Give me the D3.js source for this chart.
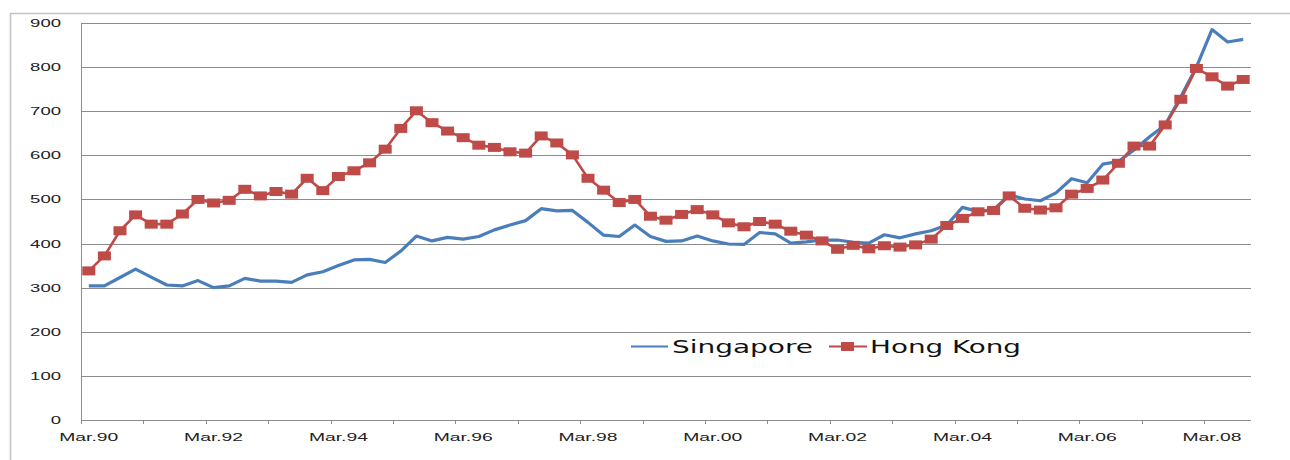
<!DOCTYPE html>
<html>
<head>
<meta charset="utf-8">
<script src="https://cdn.jsdelivr.net/npm/d3@7"></script>
<style>
    body { margin: 0; background: #fff; }
    svg { display: block; font-family: 'DejaVu Sans', Verdana, sans-serif; }
</style>
</head>
<body>
<div id="chart"></div>
<script>
// quarterly categories, Mar.90 .. Sep.08
const months = ['Mar', 'Jun', 'Sep', 'Dec'];
const years = ['90','91','92','93','94','95','96','97','98','99','00','01','02','03','04','05','06','07','08'];
const categories = [];
years.forEach(y => months.forEach(m => categories.push(`${m}.${y}`)));
categories.length = 75;

const yTicks = [0, 100, 200, 300, 400, 500, 600, 700, 800, 900];
const seriesNames = ['Singapore', 'Hong Kong'];

const singapore = [
    304, 304, 323, 342, 324, 306, 304, 316, 300, 304,
    321, 315, 315, 312, 329, 336, 350, 363, 364, 357,
    383, 417, 406, 414, 410, 416, 431, 442, 452, 479,
    474, 475, 448, 419, 416, 442, 416, 405, 406, 417,
    406, 399, 398, 425, 422, 401, 404, 408, 408, 403,
    401, 420, 413, 422, 429, 442, 482, 473, 477, 510,
    501, 497, 515, 547, 538, 580, 586, 612, 642, 669,
    733, 800, 885, 857, 863
];

const hongKong = [
    338, 372, 429, 465, 444, 444, 467, 500, 492, 498,
    523, 508, 518, 512, 548, 520, 552, 565, 583, 614,
    661, 701, 674, 655, 640, 623, 618, 608, 605, 644,
    628, 601, 548, 521, 493, 500, 462, 453, 466, 477,
    465, 447, 438, 450, 444, 428, 419, 406, 387, 396,
    388, 395, 392, 397, 410, 441, 457, 472, 475, 508,
    480, 476, 481, 512, 525, 544, 582, 621, 621, 669,
    727, 797, 778, 757, 772
];

class LineChart
{
    // margin: [top, bottom, left, right]
    constructor(container, width, height, margin) {
        this.width = width;
        this.height = height;
        this.margin = margin;

        this.svg = d3.select(container)
            .append('svg')
            .attr('width', width)
            .attr('height', height);

        // outer chart frame (left + top edges visible)
        this.svg.append('path')
            .attr('d', `M10.5,${height} V13.5 H${width}`)
            .style('fill', 'none')
            .style('stroke', '#c4c4c4')
            .style('stroke-width', 1.6);

        this.grid = this.svg.append('g');
        this.axisX = this.svg.append('g');
        this.axisY = this.svg.append('g');
        this.lines = this.svg.append('g');
        this.legend = this.svg.append('g');
    }

    #updateScales() {
        const [top, bottom, left, right] = this.margin;
        this.scaleX = d3.scaleBand(categories, [left, this.width - right]).padding(0);
        this.scaleY = d3.scaleLinear([0, 900], [this.height - bottom, top]);
        this.cx = d => this.scaleX(d) + this.scaleX.bandwidth() / 2;
    }

    #updateAxes() {
        const [top, bottom, left, right] = this.margin;
        const x0 = left, x1 = this.width - right;
        const y0 = this.height - bottom;

        // horizontal gridlines
        this.grid.selectAll('line')
            .data(yTicks.filter(t => t > 0))
            .join('line')
            .attr('x1', x0).attr('x2', x1)
            .attr('y1', d => Math.round(this.scaleY(d)) + 0.5)
            .attr('y2', d => Math.round(this.scaleY(d)) + 0.5)
            .style('stroke', '#8c8c8c')
            .style('stroke-width', 1);

        // y axis labels
        const axisGenY = d3.axisLeft(this.scaleY).tickValues(yTicks).tickSize(0).tickPadding(20);
        this.axisY.attr('transform', `translate(${x0}, 0)`).call(axisGenY);
        this.axisY.select('.domain').remove();
        this.axisY.selectAll('text')
            .style('font-size', '11px')
            .style('fill', '#222')
            .attr('textLength', d => String(d).length * 10.3)
            .attr('lengthAdjust', 'spacingAndGlyphs');

        // y axis line
        this.axisY.append('line')
            .attr('x1', 0.5).attr('x2', 0.5)
            .attr('y1', this.scaleY(900)).attr('y2', y0 + 4)
            .style('stroke', '#8c8c8c');

        // x axis line + yearly tick marks on category boundaries
        this.axisX.append('line')
            .attr('x1', x0).attr('x2', x1)
            .attr('y1', y0 + 0.5).attr('y2', y0 + 0.5)
            .style('stroke', '#8c8c8c');
        this.axisX.selectAll('line.tick')
            .data(categories.filter((_, i) => i % 4 === 0 && i > 0))
            .join('line')
            .classed('tick', true)
            .attr('x1', d => Math.round(this.scaleX(d)) + 0.5)
            .attr('x2', d => Math.round(this.scaleX(d)) + 0.5)
            .attr('y1', y0).attr('y2', y0 + 4)
            .style('stroke', '#8c8c8c');

        // x labels every two years
        const labelsG = this.axisX.append('g').attr('transform', `translate(0, ${y0})`);
        const axisGenX = d3.axisBottom(this.scaleX)
            .tickValues(categories.filter((_, i) => i % 8 === 0))
            .tickSize(0).tickPadding(13);
        labelsG.call(axisGenX);
        labelsG.select('.domain').remove();
        labelsG.selectAll('text')
            .style('font-size', '11.5px')
            .style('fill', '#222')
            .attr('textLength', 59)
            .attr('lengthAdjust', 'spacingAndGlyphs');
    }

    #updateLines() {
        const line = d3.line()
            .x((_, i) => this.cx(categories[i]))
            .y(d => this.scaleY(d));

        // Singapore: plain line
        this.lines.append('path')
            .datum(singapore)
            .attr('d', line)
            .style('fill', 'none')
            .style('stroke', '#4a7ebb')
            .style('stroke-width', 3.2)
            .style('stroke-linejoin', 'round');

        // Hong Kong: line with square markers
        this.lines.append('path')
            .datum(hongKong)
            .attr('d', line)
            .style('fill', 'none')
            .style('stroke', '#be4b48')
            .style('stroke-width', 2.6)
            .style('stroke-linejoin', 'round');

        this.lines.selectAll('rect.marker')
            .data(hongKong)
            .join('rect')
            .classed('marker', true)
            .attr('x', (_, i) => this.cx(categories[i]) - 6.5)
            .attr('y', d => this.scaleY(d) - 4.5)
            .attr('width', 13)
            .attr('height', 9)
            .style('fill', '#be4b48');
    }

    #updateLegend() {
        const ly = 346.5;
        // Singapore
        this.legend.append('line')
            .attr('x1', 631).attr('x2', 668)
            .attr('y1', ly).attr('y2', ly)
            .style('stroke', '#4a7ebb').style('stroke-width', 2.2);
        this.legend.append('text')
            .attr('x', 672).attr('y', ly + 6.3)
            .attr('textLength', 141).attr('lengthAdjust', 'spacingAndGlyphs')
            .style('font-size', '18.5px').style('fill', '#111')
            .text(seriesNames[0]);
        // Hong Kong
        this.legend.append('line')
            .attr('x1', 829).attr('x2', 867)
            .attr('y1', ly).attr('y2', ly)
            .style('stroke', '#be4b48').style('stroke-width', 2.2);
        this.legend.append('rect')
            .attr('x', 841).attr('y', ly - 4.5)
            .attr('width', 13).attr('height', 9)
            .style('fill', '#be4b48');
        this.legend.append('text')
            .attr('x', 870).attr('y', ly + 6.3)
            .attr('textLength', 151).attr('lengthAdjust', 'spacingAndGlyphs')
            .style('font-size', '18.5px').style('fill', '#111')
            .text(seriesNames[1]);
    }

    render() {
        this.#updateScales();
        this.#updateAxes();
        this.#updateLines();
        this.#updateLegend();
        return this;
    }
}

new LineChart('#chart', 1290, 460, [23, 40, 81, 39]).render();
</script>
</body>
</html>
